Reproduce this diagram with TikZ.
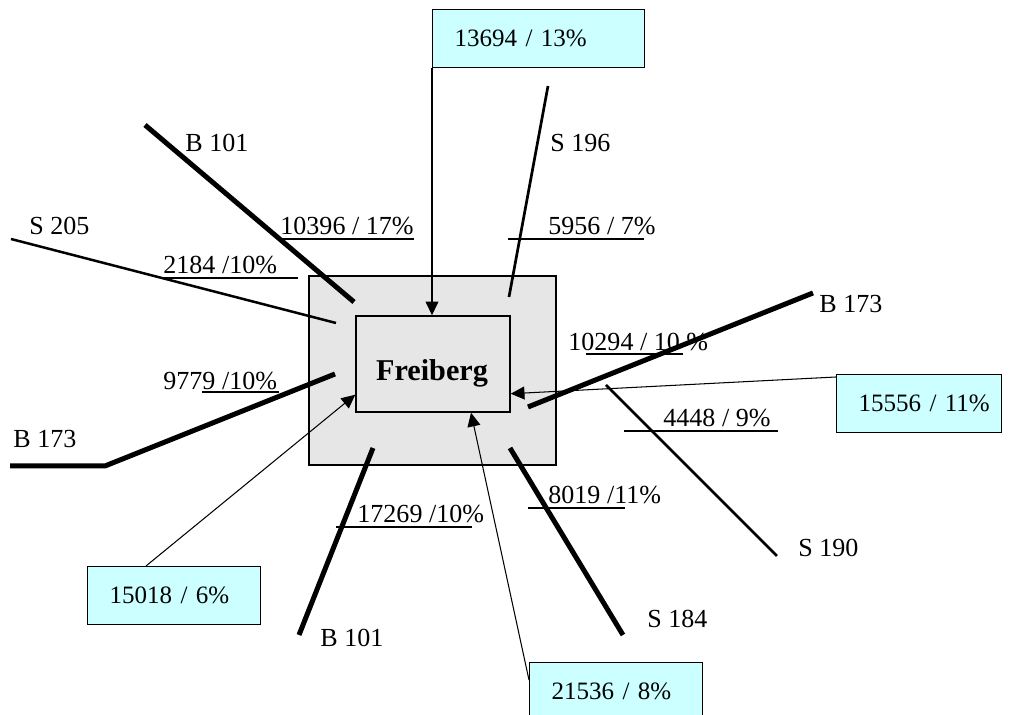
\documentclass[tikz,border=0pt]{standalone}
\usepackage{fontspec}
\setmainfont{Liberation Serif}
\usetikzlibrary{arrows.meta}
\definecolor{boxgray}{RGB}{230,230,230}
\definecolor{boxcyan}{RGB}{204,255,255}

\begin{document}
\begin{tikzpicture}[
    x=0.48pt, y=-0.48pt,
    every node/.style = {font=\fontsize{12.5}{14}\selectfont, inner sep=0pt},
    town box/.style = {
        draw=black,
        line width=0.7pt,
        fill=boxgray
    },
    count box/.style = {
        draw=black,
        line width=0.7pt,
        fill=boxcyan,
        minimum height=27.84pt,
        text width=#1,
        align=left,
        inner xsep=10.56pt,
        anchor=north west,
        font=\fontsize{12}{14}\selectfont
    },
    road label/.style = {anchor=base west},
    b road/.style = {line width=2.4pt},
    s road/.style = {line width=1.3pt},
    flow/.style = {-{Triangle[length=6.6pt, width=6.2pt]}, line width=0.5pt},
    uline/.style = {line width=0.7pt}
]
\useasboundingbox (0,0) rectangle (1015,715);
\clip (0,0) rectangle (1015,715);

\node [town box, minimum width=118.56pt, minimum height=90.72pt] (area) at (432.5,370.5) {};
\node [town box, minimum width=73.92pt, minimum height=46.08pt] (inner) at (433,364) {};
\node [anchor=base, font=\fontsize{14.5}{17}\selectfont\bfseries] (town) at (432,381) {Freiberg};

\node [count box=80.64pt] (north) at (432,9) {13694 / 13\%};
\node [count box=58.08pt] (east) at (836,374) {\mbox{15556 / 11\%}};
\node [count box=61.92pt] (southwest) at (87,566) {15018 / 6\%};
\node [count box=61.92pt] (south) at (529,662) {21536 / 8\%};

% roads
\draw [b road] (145,125) -- (354,302);
\draw [s road, line width=1.2pt] (11,239) -- (336,323);
\draw [b road] (10,466) -- (105,466) -- (335,374);
\draw [b road] (373,448) -- (299,635);
\draw [b road] (510,448) -- (623,635);
\draw [s road] (606,385) -- (777,556);
\draw [b road] (528,407) -- (813,293);
\draw [s road] (548,86) -- (509,297);

\node [road label] (b101n) at (185,152) {B 101};
\node [road label] (s205) at (29,235) {S 205};
\node [road label] (b173w) at (13,448) {B 173};
\node [road label] (b101s) at (320,647) {B 101};
\node [road label] (s184) at (647,628) {S 184};
\node [road label] (s190) at (798,557) {S 190};
\node [road label] (b173e) at (819,313) {B 173};
\node [road label] (s196) at (550,152) {S 196};

% counts
\node [road label] (c2184) at (163,274) {2184 /10\%};
\node [road label] (c10396) at (280,235) {10396 / 17\%};
\node [road label] (c9779) at (163,390) {9779 /10\%};
\node [road label] (c17269) at (357,523) {17269 /10\%};
\node [road label] (c8019) at (548,504) {8019 /11\%};
\node [road label] (c4448) at (663,427) {4448 / 9\%};
\node [road label] (c10294) at (568,351) {10294 / 10 \%};
\node [road label] (c5956) at (548,235) {5956 / 7\%};

\draw [uline] (163,278) -- (298,278);
\draw [uline] (280,239) -- (414,239);
\draw [uline] (202,392) -- (279,392);
\draw [uline] (336,527) -- (472,527);
\draw [uline] (528,508) -- (625,508);
\draw [uline] (624,431) -- (778,431);
\draw [uline] (586,354) -- (683,354);
\draw [uline] (508,239) -- (644,239);

\draw [flow] (north.south west) -- (north.south west |- inner.north);
\draw [flow] ([yshift=-1.44pt]east.north west) -- ([yshift=9.12pt]inner.south east);
\draw [flow] ([xshift=28.32pt]southwest.north west) -- ([yshift=8.64pt]inner.south west);
\draw [flow] ([yshift=-8.64pt]south.north west) -- ([xshift=18.24pt]inner.south);

\end{tikzpicture}
\end{document}
